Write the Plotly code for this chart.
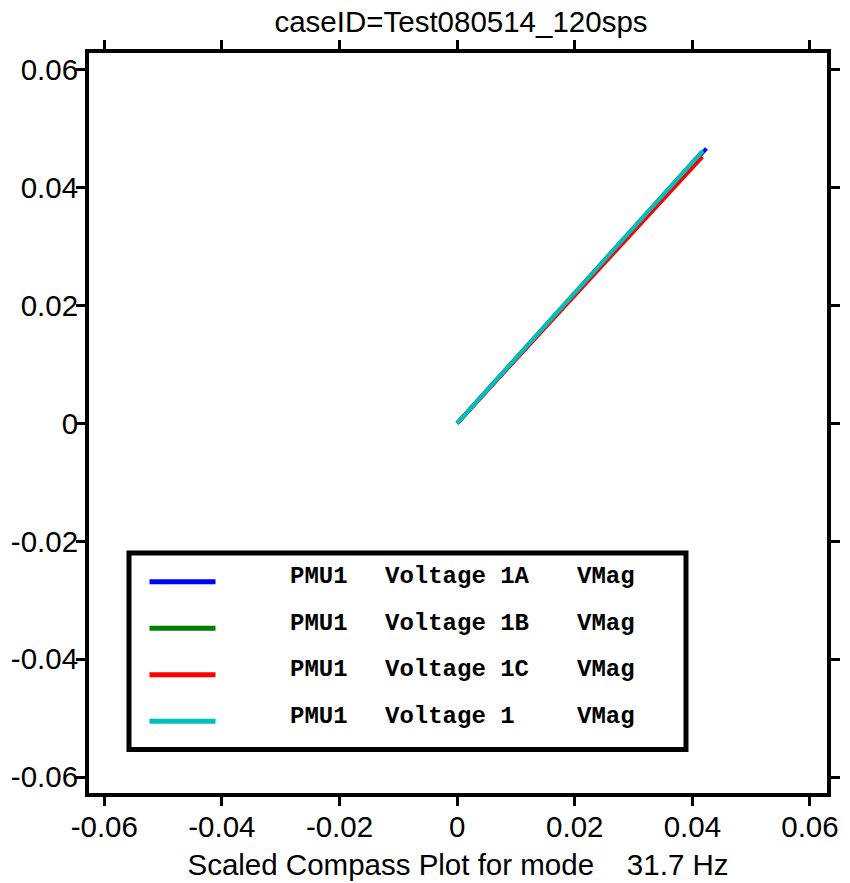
import plotly.graph_objects as go

# ---- data ----
series_names = ["PMU1  Voltage 1A  VMag", "PMU1  Voltage 1B  VMag",
                "PMU1  Voltage 1C  VMag", "PMU1  Voltage 1   VMag"]
legend_col1 = ["PMU1", "PMU1", "PMU1", "PMU1"]
legend_col2 = ["Voltage 1A", "Voltage 1B", "Voltage 1C", "Voltage 1"]
legend_col3 = ["VMag", "VMag", "VMag", "VMag"]
series_colors = ["#0000FF", "#008000", "#FF0000", "#00BFBF"]
x_end = [0.0424, 0.0416, 0.0417, 0.0418]
y_end = [0.0466, 0.0460, 0.0452, 0.0462]

tick_vals = [-0.06, -0.04, -0.02, 0, 0.02, 0.04, 0.06]
tick_text = ["-0.06", "-0.04", "-0.02", "0", "0.02", "0.04", "0.06"]

title_text = "caseID=Test080514_120sps"
xtitle_text = "Scaled Compass Plot for mode\u00a0\u00a0\u00a0\u00a031.7 Hz"

W, H = 850, 883
L, R, T, B = 89, 23, 53, 90
pw, ph = W - L - R, H - T - B
FS = 29.5


def px(xp):
    return (xp - L) / pw


def py(yp):
    return (H - B - yp) / ph


fig = go.Figure()
for name, c, xe, ye in zip(series_names, series_colors, x_end, y_end):
    fig.add_trace(go.Scatter(x=[0, xe], y=[0, ye], mode="lines", name=name,
                             line=dict(color=c, width=4), showlegend=False))

axis_common = dict(
    tickvals=tick_vals, ticktext=tick_text,
    showgrid=False, zeroline=False, automargin=False,
    showline=True, linecolor="black", linewidth=4, mirror="allticks",
    ticks="outside", ticklen=9, tickwidth=3, tickcolor="black",
    tickfont=dict(family="Liberation Sans, Arial", size=FS, color="black"),
)

fig.update_xaxes(range=[-0.0626, 0.0629], ticklabelstandoff=-4, **axis_common,
                 title=dict(text=xtitle_text, standoff=13,
                            font=dict(family="Liberation Sans, Arial", size=FS, color="black")))
fig.update_yaxes(range=[-0.0627, 0.0628], ticklabelstandoff=-8, **axis_common)

# legend box (manual)
shapes = [dict(type="rect", xref="paper", yref="paper",
               x0=px(129), x1=px(686), y0=py(749.5), y1=py(553),
               line=dict(color="black", width=5), fillcolor="white", layer="above")]
annotations = []
row_y = [581.7, 628.2, 674.7, 721.2]
legfont = dict(family="Liberation Mono, Courier New, monospace", size=24, color="black")
for i, c in enumerate(series_colors):
    yy = row_y[i]
    shapes.append(dict(type="line", xref="paper", yref="paper",
                       x0=px(149.5), x1=px(215.5), y0=py(yy), y1=py(yy),
                       line=dict(color=c, width=5), layer="above"))
    for xs, txt in zip([288, 383, 575], [legend_col1[i], legend_col2[i], legend_col3[i]]):
        annotations.append(dict(xref="paper", yref="paper", x=px(xs), y=py(yy - 5),
                                xanchor="left", yanchor="middle", showarrow=False,
                                text="<b>" + txt + "</b>", font=legfont))

fig.update_layout(
    width=W, height=H,
    margin=dict(l=L, r=R, t=T, b=B, pad=0, autoexpand=False),
    paper_bgcolor="white", plot_bgcolor="white",
    title=dict(text=title_text, x=px(461), xref="paper", y=1 - 22 / H, yref="container",
               xanchor="center", yanchor="middle", automargin=False,
               font=dict(family="Liberation Sans, Arial", size=FS, color="black")),
    shapes=shapes, annotations=annotations,
    showlegend=False,
)

fig.write_html("out.html")
